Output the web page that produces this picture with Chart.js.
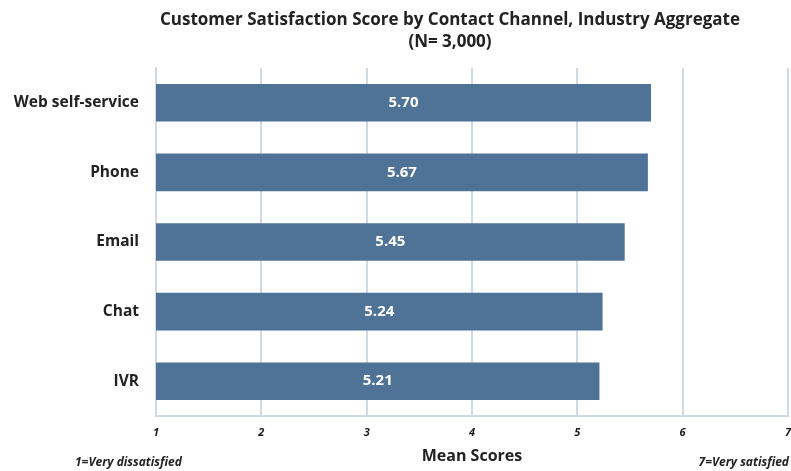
<!DOCTYPE html>
<html lang="en">
<head>
<meta charset="UTF-8">
<title>Customer Satisfaction Score by Contact Channel</title>
<script src="https://cdn.jsdelivr.net/npm/chart.js"></script>
<style>
  html, body { margin: 0; padding: 0; background: #fff; }
  #wrap { width: 791px; height: 471px; }
</style>
</head>
<body>
<div id="wrap"><canvas id="satChart" width="791" height="471"></canvas></div>
<script>
const channels = ['Web self-service', 'Phone', 'Email', 'Chat', 'IVR'];
const meanScores = [5.70, 5.67, 5.45, 5.24, 5.21];
const titleLines = ['Customer Satisfaction Score by Contact Channel, Industry Aggregate', '(N= 3,000)'];
const lowNote = '1=Very dissatisfied';
const highNote = '7=Very satisfied';

const FONT = '"Open Sans", Lato, sans-serif';
const gridColor = '#cfdae6';

// title, value labels and corner notes
const extras = {
  id: 'extras',
  afterDatasetsDraw(chart) {
    const ctx = chart.ctx;
    const meta = chart.getDatasetMeta(0);
    const left = chart.chartArea.left;
    ctx.save();
    ctx.fillStyle = '#ffffff';
    ctx.font = 'bold 15px ' + FONT;
    ctx.textAlign = 'center';
    ctx.textBaseline = 'middle';
    meta.data.forEach((bar, i) => {
      const x = (Math.max(bar.base, left) + bar.x) / 2;
      ctx.fillText(meanScores[i].toFixed(2), x, bar.y);
    });
    ctx.restore();
  },
  afterDraw(chart) {
    const ctx = chart.ctx;
    ctx.save();
    ctx.fillStyle = '#222';
    ctx.textBaseline = 'middle';
    ctx.textAlign = 'center';
    ctx.font = 'bold 17px ' + FONT;
    ctx.fillText(titleLines[0], 450, 20);
    ctx.fillText(titleLines[1], 450, 42);
    ctx.font = 'italic bold 12px ' + FONT;
    ctx.textAlign = 'left';
    ctx.fillText(lowNote, 75, 463);
    ctx.textAlign = 'right';
    ctx.fillText(highNote, 789, 463);
    ctx.restore();
  }
};

new Chart(document.getElementById('satChart'), {
  type: 'bar',
  data: {
    labels: channels,
    datasets: [{
      data: meanScores,
      backgroundColor: '#4f7396',
      categoryPercentage: 0.54,
      barPercentage: 1.0
    }]
  },
  options: {
    indexAxis: 'y',
    responsive: false,
    animation: false,
    devicePixelRatio: 1,
    layout: { padding: { top: 68, right: 0, left: 0, bottom: 0 } },
    plugins: {
      legend: { display: false },
      tooltip: { enabled: false }
    },
    scales: {
      x: {
        min: 1,
        max: 7,
        ticks: {
          stepSize: 1,
          color: '#1a1a1a',
          padding: 0,
          font: { family: FONT, size: 11, style: 'italic', weight: 'bold' }
        },
        grid: {
          color: gridColor,
          lineWidth: 2,
          drawTicks: true,
          tickLength: 10,
          tickColor: 'rgba(0,0,0,0)'
        },
        border: { color: gridColor, width: 2 },
        title: {
          display: true,
          text: 'Mean Scores',
          color: '#222',
          padding: { top: 0, bottom: 5 },
          font: { family: FONT, size: 16, weight: 'bold' }
        },
        afterFit(scale) { scale.height = 55; }
      },
      y: {
        ticks: {
          color: '#222',
          padding: 17,
          font: { family: FONT, size: 15.5, weight: 'bold' }
        },
        grid: { display: false, drawTicks: false },
        border: { color: gridColor, width: 2 },
        afterFit(scale) { scale.width = 156; }
      }
    }
  },
  plugins: [extras]
});
</script>
</body>
</html>
